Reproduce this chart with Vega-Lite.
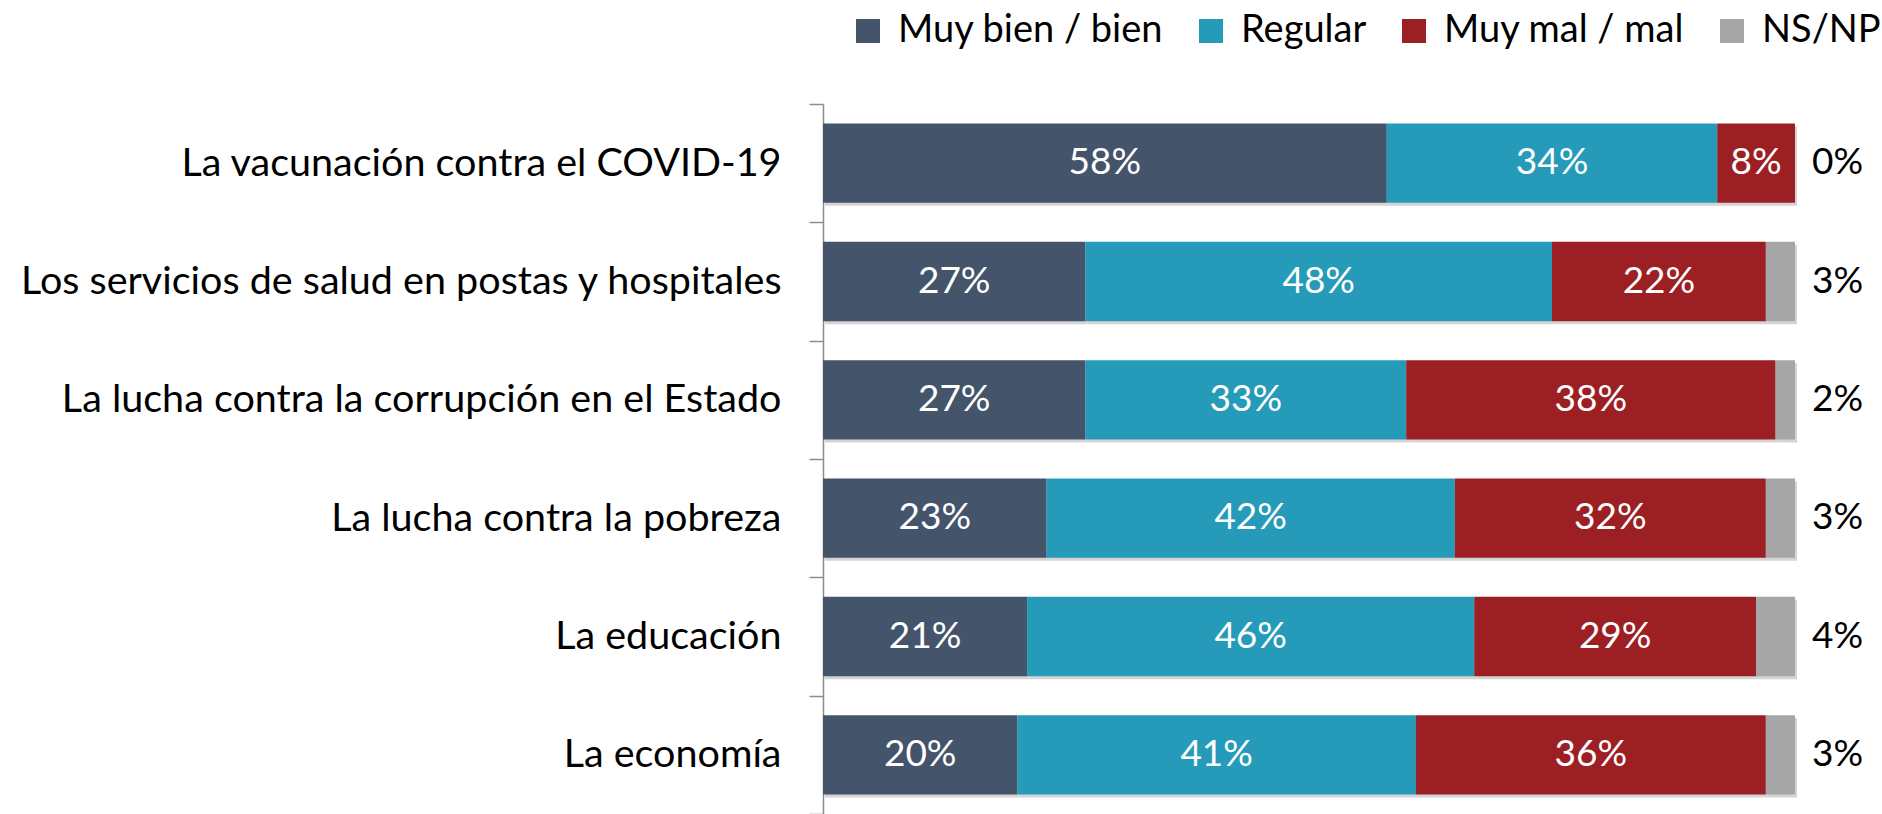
{
  "$schema": "https://vega.github.io/schema/vega-lite/v6.json",
  "autosize": {"type": "none"},
  "width": 972,
  "height": 710,
  "padding": {"left": 823, "top": 104, "right": 87, "bottom": 0},
  "background": "white",
  "config": {"view": {"stroke": null}, "font": "Lato"},
  "data": {
    "values": [
      {"item": "La vacunación contra el COVID-19", "cat": "Muy bien / bien", "ord": 1, "pct": 0.58},
      {"item": "La vacunación contra el COVID-19", "cat": "Regular", "ord": 2, "pct": 0.34},
      {"item": "La vacunación contra el COVID-19", "cat": "Muy mal / mal", "ord": 3, "pct": 0.08},
      {"item": "La vacunación contra el COVID-19", "cat": "NS/NP", "ord": 4, "pct": 0.0},
      {"item": "Los servicios de salud en postas y hospitales", "cat": "Muy bien / bien", "ord": 1, "pct": 0.27},
      {"item": "Los servicios de salud en postas y hospitales", "cat": "Regular", "ord": 2, "pct": 0.48},
      {"item": "Los servicios de salud en postas y hospitales", "cat": "Muy mal / mal", "ord": 3, "pct": 0.22},
      {"item": "Los servicios de salud en postas y hospitales", "cat": "NS/NP", "ord": 4, "pct": 0.03},
      {"item": "La lucha contra la corrupción en el Estado", "cat": "Muy bien / bien", "ord": 1, "pct": 0.27},
      {"item": "La lucha contra la corrupción en el Estado", "cat": "Regular", "ord": 2, "pct": 0.33},
      {"item": "La lucha contra la corrupción en el Estado", "cat": "Muy mal / mal", "ord": 3, "pct": 0.38},
      {"item": "La lucha contra la corrupción en el Estado", "cat": "NS/NP", "ord": 4, "pct": 0.02},
      {"item": "La lucha contra la pobreza", "cat": "Muy bien / bien", "ord": 1, "pct": 0.23},
      {"item": "La lucha contra la pobreza", "cat": "Regular", "ord": 2, "pct": 0.42},
      {"item": "La lucha contra la pobreza", "cat": "Muy mal / mal", "ord": 3, "pct": 0.32},
      {"item": "La lucha contra la pobreza", "cat": "NS/NP", "ord": 4, "pct": 0.03},
      {"item": "La educación", "cat": "Muy bien / bien", "ord": 1, "pct": 0.21},
      {"item": "La educación", "cat": "Regular", "ord": 2, "pct": 0.46},
      {"item": "La educación", "cat": "Muy mal / mal", "ord": 3, "pct": 0.29},
      {"item": "La educación", "cat": "NS/NP", "ord": 4, "pct": 0.04},
      {"item": "La economía", "cat": "Muy bien / bien", "ord": 1, "pct": 0.20},
      {"item": "La economía", "cat": "Regular", "ord": 2, "pct": 0.41},
      {"item": "La economía", "cat": "Muy mal / mal", "ord": 3, "pct": 0.36},
      {"item": "La economía", "cat": "NS/NP", "ord": 4, "pct": 0.03}
    ]
  },
  "encoding": {
    "y": {
      "field": "item",
      "type": "nominal",
      "sort": null,
      "title": null,
      "scale": {"paddingInner": 0, "paddingOuter": 0},
      "axis": {
        "tickBand": "extent",
        "domainColor": "#8c8c8c",
        "domainWidth": 1.5,
        "tickColor": "#8c8c8c",
        "tickWidth": 1.5,
        "tickSize": 14,
        "labelFont": "Lato",
        "labelFontSize": 39.5,
        "labelColor": "#000000",
        "labelPadding": 28,
        "labelLimit": 1000
      }
    }
  },
  "layer": [
    {
      "mark": {"type": "bar", "height": {"band": 0.67}, "xOffset": 2, "yOffset": 3, "color": "#d4d4d4"},
      "encoding": {
        "x": {"field": "pct", "type": "quantitative", "stack": "zero", "scale": {"domain": [0, 1], "nice": false}, "axis": null},
        "order": {"field": "ord", "type": "quantitative"}
      }
    },
    {
      "mark": {"type": "bar", "height": {"band": 0.67}},
      "encoding": {
        "x": {"field": "pct", "type": "quantitative", "stack": "zero", "scale": {"domain": [0, 1], "nice": false}, "axis": null},
        "order": {"field": "ord", "type": "quantitative"},
        "color": {
          "field": "cat",
          "type": "nominal",
          "scale": {
            "domain": ["Muy bien / bien", "Regular", "Muy mal / mal", "NS/NP"],
            "range": ["#44546a", "#259bb9", "#9c1f24", "#a6a6a6"]
          },
          "legend": {
            "title": null,
            "orient": "none",
            "direction": "horizontal",
            "legendX": 26,
            "legendY": -92,
            "symbolType": "M-1,-1H1V1H-1Z",
            "symbolSize": 576,
            "symbolStrokeWidth": 0,
            "labelFont": "Lato",
            "labelFontSize": 38,
            "labelColor": "#000000",
            "labelOffset": 11,
            "columnPadding": 28,
            "labelLimit": 1000
          }
        }
      }
    },
    {
      "transform": [{"filter": "datum.cat !== 'NS/NP'"}],
      "mark": {"type": "text", "color": "white", "font": "Lato", "fontSize": 37, "baseline": "middle", "align": "center"},
      "encoding": {
        "x": {"field": "pct", "type": "quantitative", "stack": "zero", "bandPosition": 0.5},
        "order": {"field": "ord", "type": "quantitative"},
        "text": {"field": "pct", "type": "quantitative", "format": ".0%"}
      }
    },
    {
      "transform": [{"filter": "datum.cat === 'NS/NP'"}],
      "mark": {"type": "text", "color": "black", "font": "Lato", "fontSize": 37, "baseline": "middle", "align": "left", "dx": 17},
      "encoding": {
        "x": {"datum": 1},
        "text": {"field": "pct", "type": "quantitative", "format": ".0%"}
      }
    }
  ]
}
